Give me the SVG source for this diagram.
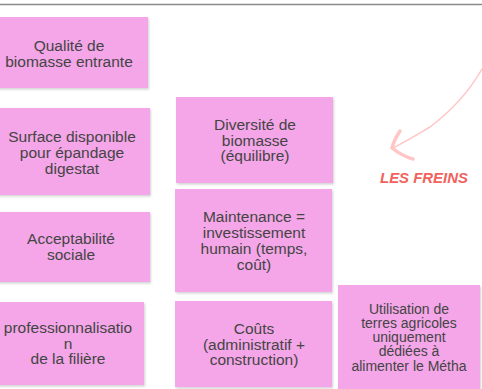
<svg xmlns="http://www.w3.org/2000/svg" width="482" height="389" viewBox="0 0 482 389">
<defs>
<filter id="sh" x="-10%" y="-10%" width="130%" height="130%">
<feDropShadow dx="1" dy="1.5" stdDeviation="1" flood-color="#000" flood-opacity="0.18"/>
</filter>
</defs>
<style>
.box{fill:#f4a6e8;filter:url(#sh)}
.t{font-family:"Liberation Sans",Arial,sans-serif;font-size:15.5px;fill:#444;text-anchor:middle}
.s{font-size:14px}
.fr{font-family:"Liberation Sans",Arial,sans-serif;font-size:14px;font-weight:bold;font-style:italic;fill:#f2615c}
</style>
<rect width="482" height="389" fill="#fff"/>
<line x1="0" y1="4.5" x2="482" y2="4.5" stroke="#8a8a8a" stroke-width="1.5"/>
<g id="n1"><rect class="box" x="-10" y="17" width="158" height="71"/>
<text class="t"><tspan x="69" y="50.5">Qualité de</tspan><tspan x="69" y="66.5">biomasse entrante</tspan></text></g>
<g id="n2"><rect class="box" x="-10" y="108" width="160" height="87"/>
<text class="t"><tspan x="72" y="141.5">Surface disponible</tspan><tspan x="72" y="157.5">pour épandage</tspan><tspan x="72" y="173.5">digestat</tspan></text></g>
<g id="n3"><rect class="box" x="-10" y="212" width="160" height="70"/>
<text class="t"><tspan x="71" y="243.5">Acceptabilité</tspan><tspan x="71" y="260">sociale</tspan></text></g>
<g id="n4"><rect class="box" x="-10" y="302" width="154" height="83"/>
<text class="t"><tspan x="68" y="333">professionnalisatio</tspan><tspan x="68" y="348.5">n</tspan><tspan x="68" y="364">de la filière</tspan></text></g>
<g id="n5"><rect class="box" x="176" y="97" width="157" height="86"/>
<text class="t"><tspan x="255" y="129.5">Diversité de</tspan><tspan x="255" y="145.5">biomasse</tspan><tspan x="255" y="161">(équilibre)</tspan></text></g>
<g id="n6"><rect class="box" x="175" y="189" width="157" height="103"/>
<text class="t"><tspan x="254" y="222">Maintenance =</tspan><tspan x="254" y="238">investissement</tspan><tspan x="254" y="254">humain (temps,</tspan><tspan x="254" y="269.5">coût)</tspan></text></g>
<g id="n7"><rect class="box" x="175" y="301" width="157" height="86"/>
<text class="t"><tspan x="254" y="333.5">Coûts</tspan><tspan x="254" y="349.5">(administratif +</tspan><tspan x="254" y="365">construction)</tspan></text></g>
<g id="n8"><rect class="box" x="338" y="285" width="142" height="110"/>
<text class="t s"><tspan x="409" y="314">Utilisation de</tspan><tspan x="409" y="328">terres agricoles</tspan><tspan x="409" y="342">uniquement</tspan><tspan x="409" y="356">dédiées à</tspan><tspan x="409" y="370.5">alimenter le Métha</tspan></text></g>
<g id="connectors" fill="none" stroke="#ffc6c6" stroke-linecap="round" stroke-linejoin="round">
<path d="M482 69 C470 90 455 108 430 127 C418 134 405 142 393 148" stroke-width="1.5"/>
<path d="M400 131 Q394 140 392 148 Q402 156 413 159" stroke-width="3.5"/>
</g>
<text class="fr" x="380" y="182.5" textLength="88" lengthAdjust="spacingAndGlyphs">LES FREINS</text>
</svg>
